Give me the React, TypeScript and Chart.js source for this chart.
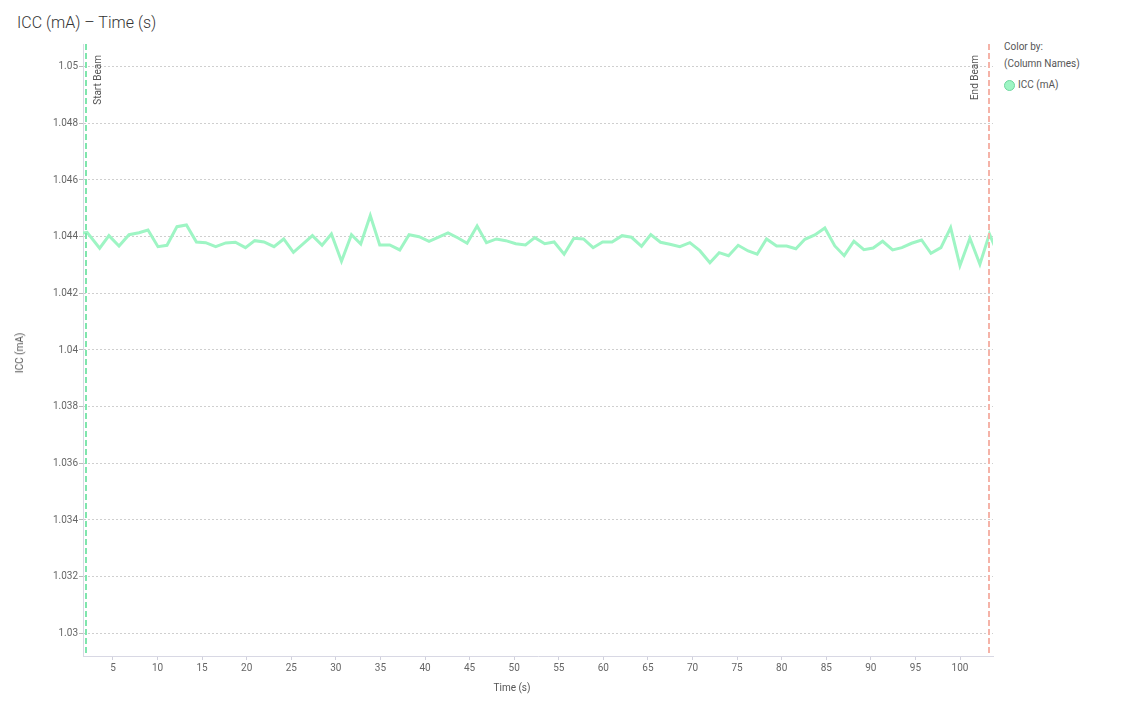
import React, { useEffect, useRef } from "react";
import { Chart, registerables } from "chart.js";

Chart.register(...registerables);

// ---- data ----
const TIME_S = [
  1.1, 2.1, 3.51, 4.55, 5.68, 6.8, 7.92, 8.93, 10.05, 11.06,
  12.18, 13.24, 14.36, 15.4, 16.52, 17.65, 18.73, 19.86, 20.9, 21.94,
  23.06, 24.15, 25.24, 26.32, 27.37, 28.45, 29.5, 30.63, 31.75, 32.79,
  33.86, 34.92, 36.04, 37.17, 38.21, 39.33, 40.45, 41.46, 42.58, 43.71,
  44.72, 45.84, 46.89, 48.01, 49.06, 50.18, 51.27, 52.31, 53.43, 54.48,
  55.6, 56.69, 57.77, 58.85, 59.91, 60.98, 62.1, 63.16, 64.28, 65.32,
  66.41, 67.46, 68.58, 69.7, 70.82, 71.95, 72.99, 74.04, 75.12, 76.24,
  77.25, 78.3, 79.43, 80.55, 81.59, 82.6, 83.72, 84.84, 85.96, 87.01,
  88.1, 89.22, 90.26, 91.32, 92.44, 93.48, 94.57, 95.69, 96.74, 97.86,
  98.95, 99.99, 101.11, 102.23, 103.3, 104.37,
];

const ICC_MA = [
  1.044095, 1.044155, 1.043591, 1.044035, 1.043672, 1.044071, 1.044141, 1.044237, 1.043647, 1.043696,
  1.044353, 1.044413, 1.043813, 1.043788, 1.043647, 1.043778, 1.043802, 1.043612, 1.043859, 1.043813,
  1.043647, 1.043919, 1.043449, 1.043742, 1.044035, 1.043696, 1.044095, 1.043132, 1.044071, 1.043742,
  1.044748, 1.043707, 1.043707, 1.043531, 1.044071, 1.044, 1.043838, 1.043979, 1.044131, 1.043954,
  1.043767, 1.044378, 1.043788, 1.043919, 1.043859, 1.043753, 1.043707, 1.043965, 1.043753, 1.043813,
  1.043379, 1.043944, 1.043919, 1.043612, 1.043813, 1.043813, 1.044035, 1.043979, 1.043661, 1.044071,
  1.043802, 1.043732, 1.043647, 1.043788, 1.043506, 1.043082, 1.043435, 1.043329, 1.043696, 1.043495,
  1.043379, 1.043919, 1.043672, 1.043672, 1.043576, 1.043908, 1.04406, 1.044307, 1.043672, 1.043329,
  1.043838, 1.043541, 1.043601, 1.043838, 1.043531, 1.043612, 1.043767, 1.043884, 1.043414, 1.043612,
  1.044318, 1.042976, 1.043944, 1.043026, 1.044095, 1.0433,
];

const X_TICKS = [5, 10, 15, 20, 25, 30, 35, 40, 45, 50, 55, 60, 65, 70, 75, 80, 85, 90, 95, 100];
const Y_TICKS = [1.03, 1.032, 1.034, 1.036, 1.038, 1.04, 1.042, 1.044, 1.046, 1.048, 1.05];
const Y_TICK_LABELS = ["1.03", "1.032", "1.034", "1.036", "1.038", "1.04", "1.042", "1.044", "1.046", "1.048", "1.05"];

const BEAM_LABELS = ["Start Beam", "End Beam"];
const BEAM_TIMES = [2.02, 103.27];

const X_RANGE = [1.64, 103.7];
const Y_RANGE = [1.0292, 1.0508];

const SERIES_NAME = "ICC (mA)";
const TITLE = "ICC (mA) – Time (s)";
const X_TITLE = "Time (s)";
const Y_TITLE = "ICC (mA)";

// ---- styles ----
const FONT = "Roboto, 'Noto Sans', sans-serif";
const LINE_COLOR = "#9ef5c4";
const BEAM_COLORS = ["#7fe6ad", "#f5b3a8"];
const BEAM_LABEL_OFFSETS = [12, -13.5];

const beamPlugin = {
  id: "beams",
  afterDatasetsDraw(chart: any) {
    const { ctx, chartArea, scales } = chart;
    const x = scales.x;
    BEAM_TIMES.forEach((t, i) => {
      const px = Math.round(x.getPixelForValue(t));
      ctx.save();
      ctx.strokeStyle = BEAM_COLORS[i];
      ctx.lineWidth = 2;
      ctx.setLineDash([6, 3]);
      ctx.beginPath();
      ctx.moveTo(px, chartArea.top);
      ctx.lineTo(px, chartArea.bottom);
      ctx.stroke();
      ctx.setLineDash([]);
      ctx.translate(px + BEAM_LABEL_OFFSETS[i], chartArea.top + 11);
      ctx.rotate(-Math.PI / 2);
      ctx.font = `10px ${FONT}`;
      ctx.fillStyle = "#555555";
      ctx.textAlign = "right";
      ctx.textBaseline = "middle";
      ctx.fillText(BEAM_LABELS[i], 0, 0);
      ctx.restore();
    });
  },
};

export default function App() {
  const canvasRef = useRef<HTMLCanvasElement | null>(null);

  useEffect(() => {
    if (!canvasRef.current) return;
    const points = TIME_S.map((t, i) => ({ x: t, y: ICC_MA[i] }));
    const chart = new Chart(canvasRef.current, {
      type: "line",
      data: {
        datasets: [
          {
            label: SERIES_NAME,
            data: points,
            borderColor: LINE_COLOR,
            backgroundColor: LINE_COLOR,
            borderWidth: 3,
            pointRadius: 0,
            tension: 0,
            clip: 0,
          },
        ],
      },
      options: {
        responsive: false,
        animation: false,
        devicePixelRatio: 1,
        layout: { padding: { top: 44, right: 7, left: 0, bottom: 0 } },
        plugins: {
          legend: { display: false },
          tooltip: { enabled: false },
          title: { display: false },
        },
        scales: {
          x: {
            type: "linear",
            min: X_RANGE[0],
            max: X_RANGE[1],
            afterBuildTicks: (scale: any) => {
              scale.ticks = X_TICKS.map((v) => ({ value: v }));
            },
            afterFit: (scale: any) => {
              scale.height = 54;
            },
            ticks: {
              color: "#666666",
              font: { family: FONT, size: 10 },
              padding: 2,
              maxRotation: 0,
              autoSkip: false,
              callback: (v: any) => String(v),
            },
            grid: {
              drawOnChartArea: false,
              drawTicks: true,
              tickLength: 4,
              tickColor: "#d0d0dc",
            },
            border: { display: true, color: "#d8d8e4", width: 1 },
          },
          y: {
            type: "linear",
            min: Y_RANGE[0],
            max: Y_RANGE[1],
            afterBuildTicks: (scale: any) => {
              scale.ticks = Y_TICKS.map((v) => ({ value: v }));
            },
            afterFit: (scale: any) => {
              scale.width = 83;
            },
            ticks: {
              color: "#666666",
              font: { family: FONT, size: 10 },
              padding: 1,
              autoSkip: false,
              callback: (_v: any, i: number) => Y_TICK_LABELS[i],
            },
            grid: {
              color: "#cfcfcf",
              drawTicks: true,
              tickLength: 4,
              tickColor: "#bbbbbb",
              tickBorderDash: [],
            },
            border: { display: true, color: "#d8d8e4", width: 1, dash: [2, 2] },
          },
        },
      },
      plugins: [beamPlugin],
    });
    return () => chart.destroy();
  }, []);

  const text: React.CSSProperties = {
    position: "absolute",
    fontFamily: FONT,
    fontSize: 10,
    lineHeight: "12px",
    color: "#555555",
    whiteSpace: "nowrap",
  };

  return (
    <div
      style={{
        position: "fixed",
        left: 0,
        top: 0,
        width: 1126,
        height: 710,
        background: "#ffffff",
        overflow: "hidden",
      }}
    >
      <div
        style={{
          position: "absolute",
          left: 17,
          top: 13,
          fontFamily: FONT,
          fontSize: 16,
          fontWeight: 300,
          lineHeight: "20px",
          color: "#333333",
          whiteSpace: "nowrap",
        }}
      >
        {TITLE}
      </div>
      <canvas
        ref={canvasRef}
        width={1000}
        height={710}
        style={{ position: "absolute", left: 0, top: 0, width: 1000, height: 710 }}
      />
      <div
        style={{
          ...text,
          left: 20,
          top: 353,
          transform: "translate(-50%, -50%) rotate(-90deg)",
        }}
      >
        {Y_TITLE}
      </div>
      <div style={{ ...text, left: 512, top: 688, transform: "translate(-50%, -50%)" }}>{X_TITLE}</div>
      <div style={{ ...text, left: 1004, top: 41 }}>Color by:</div>
      <div style={{ ...text, left: 1004, top: 58 }}>(Column Names)</div>
      <div
        style={{
          position: "absolute",
          left: 1004,
          top: 80,
          width: 9,
          height: 9,
          borderRadius: "50%",
          background: LINE_COLOR,
          border: "1px solid #6fd79f",
        }}
      />
      <div style={{ ...text, left: 1018, top: 79 }}>{SERIES_NAME}</div>
    </div>
  );
}
